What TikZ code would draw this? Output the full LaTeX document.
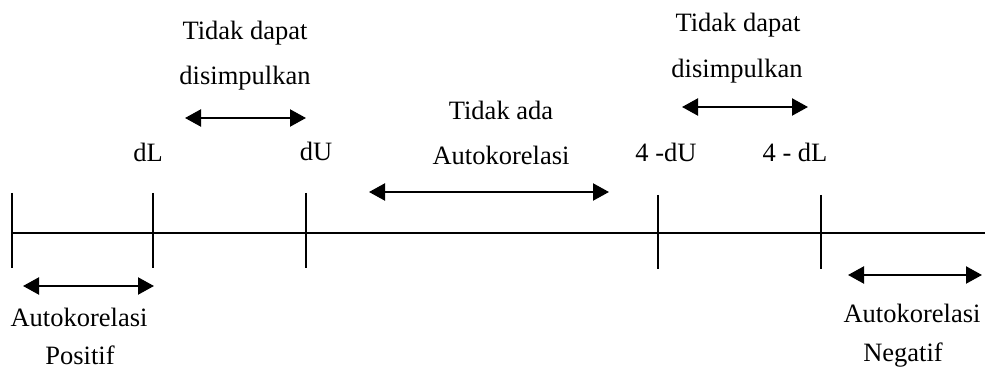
\documentclass[tikz,border=0pt]{standalone}
\usepackage{fontspec}
\setmainfont{Liberation Serif}
\usetikzlibrary{arrows.meta}
\begin{document}
\begin{tikzpicture}[x=1pt,y=-1pt,
  lbl/.style={inner sep=0pt,font=\fontsize{26.5}{32}\selectfont},
  axis/.style={line width=1.5pt},
  dblarrow/.style={line width=2.2pt,{Triangle[length=16pt,width=17pt]}-{Triangle[length=16pt,width=17pt]}}]
\useasboundingbox (0,0) rectangle (985,371);
% axis
\coordinate (a0) at (12,233);
\coordinate (a1) at (985,233);
\draw[axis] (a0) -- (a1);
% ticks
\coordinate (t1a) at (12,193);  \coordinate (t1b) at (12,268);
\coordinate (t2a) at (153,193); \coordinate (t2b) at (153,268);
\coordinate (t3a) at (306,193); \coordinate (t3b) at (306,268);
\coordinate (t4a) at (658,195); \coordinate (t4b) at (658,269);
\coordinate (t5a) at (821,195); \coordinate (t5b) at (821,269);
\foreach \t in {t1,t2,t3,t4,t5} \draw[axis] (\t a) -- (\t b);
% labels
\node[lbl] (dl) at (148,152) {dL};
\node[lbl] (du) at (316,151) {dU};
\node[lbl] (du4) at (666,152) {4 -dU};
\node[lbl] (dl4) at (795,152) {4 - dL};
\node[lbl] (tdp1) at (245,33) {Tidak dapat};
\node[lbl] (dis1) at (245,78) {disimpulkan};
\node[lbl] (tdp2) at (738,25) {Tidak dapat};
\node[lbl] (dis2) at (737,71) {disimpulkan};
\node[lbl] (tad) at (501,110) {Tidak ada};
\node[lbl] (ak) at (501,155) {Autokorelasi};
\node[lbl] (akp) at (79,317) {Autokorelasi};
\node[lbl] (pos) at (80,355) {Positif};
\node[lbl] (akn) at (912,313) {Autokorelasi};
\node[lbl] (neg) at (903,355) {Negatif};
% arrows
\coordinate (p1) at (23,286);  \coordinate (p2) at (154,286);
\coordinate (q1) at (185,118); \coordinate (q2) at (306,118);
\coordinate (r1) at (369,192); \coordinate (r2) at (609,192);
\coordinate (s1) at (682,107); \coordinate (s2) at (808,107);
\coordinate (n1) at (848,275); \coordinate (n2) at (982,275);
\draw[dblarrow] (p1) -- (p2);
\draw[dblarrow] (q1) -- (q2);
\draw[dblarrow] (r1) -- (r2);
\draw[dblarrow] (s1) -- (s2);
\draw[dblarrow] (n1) -- (n2);
\end{tikzpicture}
\end{document}
